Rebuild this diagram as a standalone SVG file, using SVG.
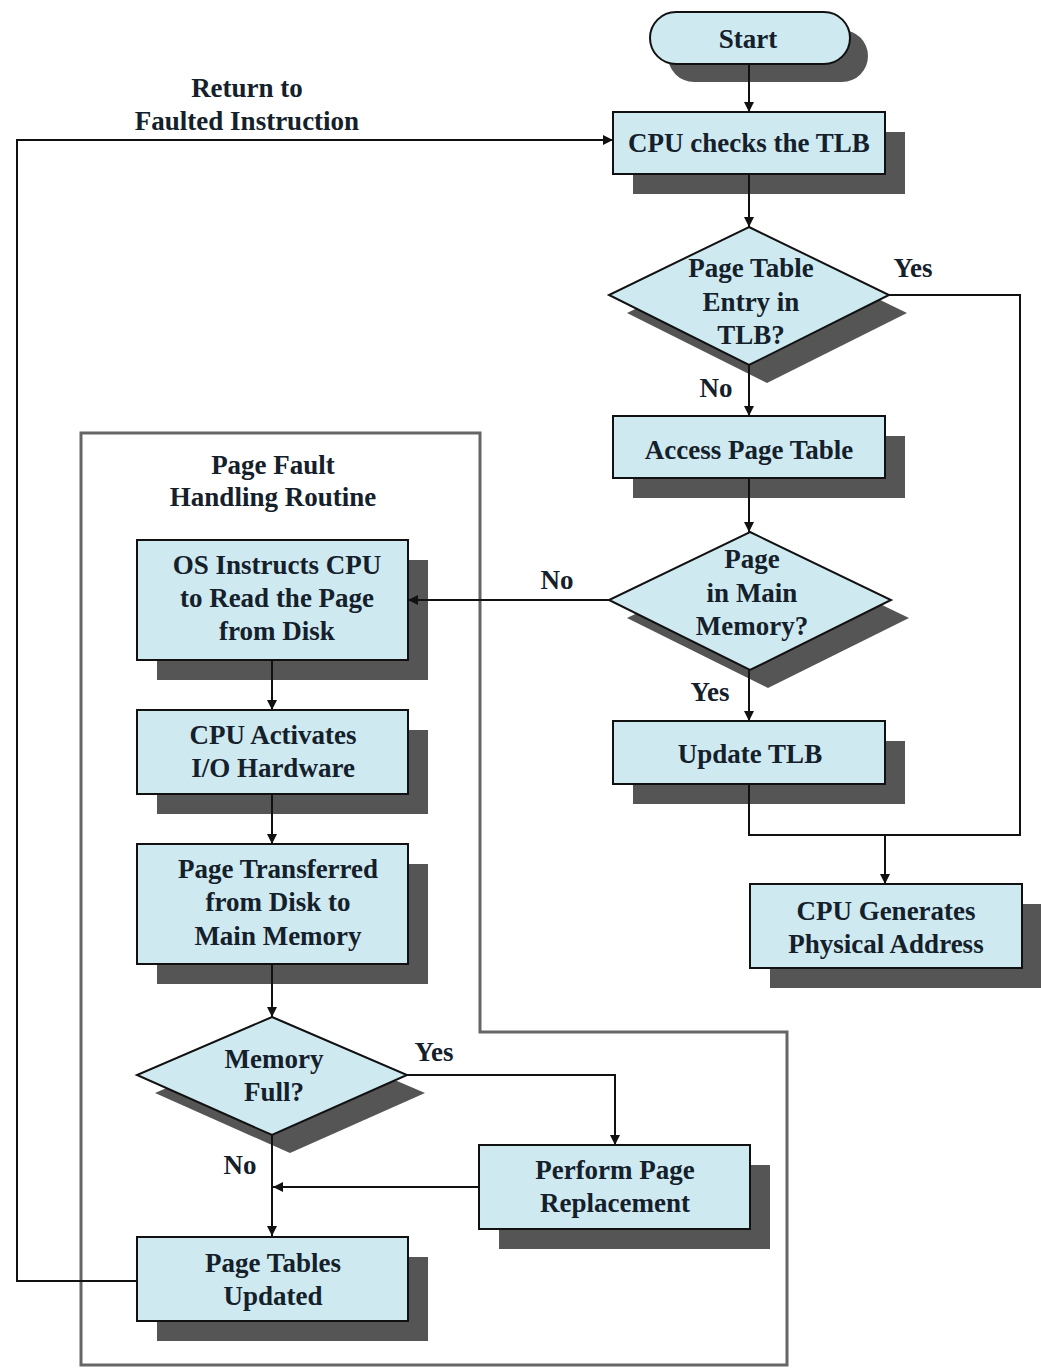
<svg xmlns="http://www.w3.org/2000/svg" width="1041" height="1368" viewBox="0 0 1041 1368">
<style>
text{font-family:"Liberation Serif","Times New Roman",serif;font-weight:bold;font-size:27px;fill:#14202a;text-anchor:middle}
.box{fill:#cfe9f1;stroke:#111;stroke-width:2}
.sh{fill:#555}
.ln{fill:none;stroke:#111;stroke-width:2}
.frame{fill:none;stroke:#666;stroke-width:3}
</style>
<defs>
<marker id="ah" viewBox="0 0 10 10" refX="10" refY="5" markerWidth="10" markerHeight="10" markerUnits="userSpaceOnUse" orient="auto">
<path d="M0,0 L10,5 L0,10 Z" fill="#111"/>
</marker>
</defs>
<rect width="1041" height="1368" fill="#fff"/>
<g id="pf-routine">
<path class="frame" d="M81,1365 V433 H480 V1032 H787 V1365 Z"/>
<text x="273" y="474">Page Fault</text>
<text x="273" y="506">Handling Routine</text>
</g>
<g id="start">
<rect class="sh" x="668" y="30" width="200" height="52" rx="26"/>
<rect class="box" x="650" y="12" width="200" height="52" rx="26"/>
<text x="748" y="48">Start</text>
</g>
<g id="cpu-checks-tlb">
<rect class="sh" x="633" y="132" width="272" height="62"/>
<rect class="box" x="613" y="112" width="272" height="62"/>
<text x="749" y="152">CPU checks the TLB</text>
</g>
<g id="pte-in-tlb">
<polygon class="sh" points="767,245 907,313 767,383 627,313"/>
<polygon class="box" points="749,227 889,295 749,365 609,295"/>
<text x="751" y="277">Page Table</text>
<text x="751" y="311">Entry in</text>
<text x="751" y="344">TLB?</text>
</g>
<g id="access-page-table">
<rect class="sh" x="633" y="436" width="272" height="62"/>
<rect class="box" x="613" y="416" width="272" height="62"/>
<text x="749" y="459">Access Page Table</text>
</g>
<g id="page-in-mem">
<polygon class="sh" points="768,550 909,618 768,688 627,618"/>
<polygon class="box" points="750,532 891,600 750,670 609,600"/>
<text x="752" y="568">Page</text>
<text x="752" y="602">in Main</text>
<text x="752" y="635">Memory?</text>
</g>
<g id="update-tlb">
<rect class="sh" x="633" y="741" width="272" height="63"/>
<rect class="box" x="613" y="721" width="272" height="63"/>
<text x="750" y="763">Update TLB</text>
</g>
<g id="cpu-generates">
<rect class="sh" x="770" y="904" width="272" height="84"/>
<rect class="box" x="750" y="884" width="272" height="84"/>
<text x="886" y="920">CPU Generates</text>
<text x="886" y="953">Physical Address</text>
</g>
<g id="os-instructs">
<rect class="sh" x="157" y="560" width="271" height="120"/>
<rect class="box" x="137" y="540" width="271" height="120"/>
<text x="277" y="574">OS Instructs CPU</text>
<text x="277" y="607">to Read the Page</text>
<text x="277" y="640">from Disk</text>
</g>
<g id="cpu-activates">
<rect class="sh" x="157" y="730" width="271" height="84"/>
<rect class="box" x="137" y="710" width="271" height="84"/>
<text x="273" y="744">CPU Activates</text>
<text x="273" y="777">I/O Hardware</text>
</g>
<g id="page-transferred">
<rect class="sh" x="157" y="864" width="271" height="120"/>
<rect class="box" x="137" y="844" width="271" height="120"/>
<text x="278" y="878">Page Transferred</text>
<text x="278" y="911">from Disk to</text>
<text x="278" y="945">Main Memory</text>
</g>
<g id="memory-full">
<polygon class="sh" points="290,1035 425,1093 290,1153 155,1093"/>
<polygon class="box" points="272,1017 407,1075 272,1135 137,1075"/>
<text x="274" y="1068">Memory</text>
<text x="274" y="1101">Full?</text>
</g>
<g id="page-replacement">
<rect class="sh" x="499" y="1165" width="271" height="84"/>
<rect class="box" x="479" y="1145" width="271" height="84"/>
<text x="615" y="1179">Perform Page</text>
<text x="615" y="1212">Replacement</text>
</g>
<g id="page-tables-updated">
<rect class="sh" x="157" y="1257" width="271" height="84"/>
<rect class="box" x="137" y="1237" width="271" height="84"/>
<text x="273" y="1272">Page Tables</text>
<text x="273" y="1305">Updated</text>
</g>
<g id="connectors">
<line class="ln" x1="749" y1="64" x2="749" y2="112" marker-end="url(#ah)"/>
<line class="ln" x1="749" y1="174" x2="749" y2="227" marker-end="url(#ah)"/>
<line class="ln" x1="749" y1="365" x2="749" y2="416" marker-end="url(#ah)"/>
<line class="ln" x1="749" y1="478" x2="749" y2="532" marker-end="url(#ah)"/>
<line class="ln" x1="609" y1="600" x2="408" y2="600" marker-end="url(#ah)"/>
<line class="ln" x1="749" y1="670" x2="749" y2="721" marker-end="url(#ah)"/>
<polyline class="ln" points="889,295 1020,295 1020,835 749,835 749,784"/>
<line class="ln" x1="885" y1="835" x2="885" y2="884" marker-end="url(#ah)"/>
<line class="ln" x1="272" y1="660" x2="272" y2="710" marker-end="url(#ah)"/>
<line class="ln" x1="272" y1="794" x2="272" y2="844" marker-end="url(#ah)"/>
<line class="ln" x1="272" y1="964" x2="272" y2="1017" marker-end="url(#ah)"/>
<polyline class="ln" points="407,1075 615,1075 615,1145" marker-end="url(#ah)"/>
<line class="ln" x1="272" y1="1135" x2="272" y2="1236" marker-end="url(#ah)"/>
<line class="ln" x1="479" y1="1187" x2="273" y2="1187" marker-end="url(#ah)"/>
<polyline class="ln" points="137,1281 17,1281 17,140 613,140" marker-end="url(#ah)"/>
<text x="913" y="277">Yes</text>
<text x="716" y="397">No</text>
<text x="557" y="589">No</text>
<text x="710" y="701">Yes</text>
<text x="434" y="1061">Yes</text>
<text x="240" y="1174">No</text>
<text x="247" y="97">Return to</text>
<text x="247" y="130">Faulted Instruction</text>
</g>
</svg>
